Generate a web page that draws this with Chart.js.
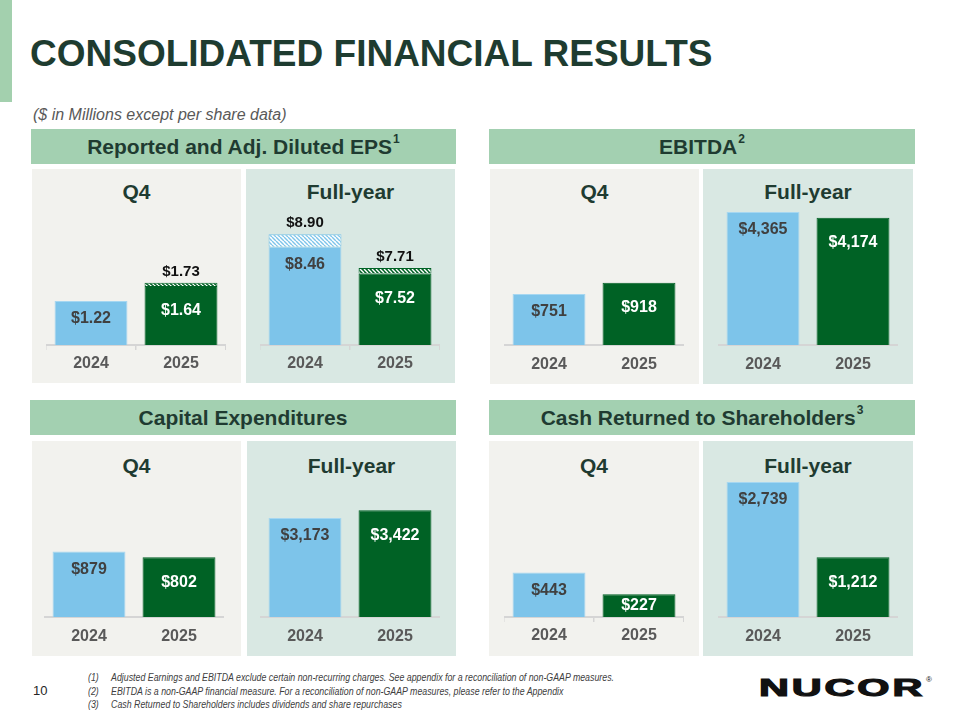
<!DOCTYPE html>
<html><head><meta charset="utf-8">
<script src="https://cdn.jsdelivr.net/npm/chart.js@4.4.1/dist/chart.umd.min.js"></script>
<style>
html,body{margin:0;padding:0;background:#fff;}
body{width:960px;height:720px;position:relative;overflow:hidden;font-family:"Liberation Sans",Arial,sans-serif;}
.abs{position:absolute;}
.accent{left:0;top:0;width:12px;height:102px;background:#a3d0ae;}
.title{left:30px;top:35px;font-size:37px;line-height:37px;font-weight:bold;color:#1e3c30;white-space:nowrap;}
.sub{left:33px;top:107px;font-size:16px;line-height:16px;font-style:italic;color:#595959;white-space:nowrap;}
.hdr{display:flex;align-items:center;justify-content:center;background:#a3d0b1;color:#1f3b31;font-weight:bold;font-size:21px;line-height:22px;white-space:nowrap;}
.hdr .sp{font-size:12px;position:relative;top:-8px;margin-left:1px;}
.pq{background:#f2f2ee;}
.pf{background:#d9e8e3;}
.ptitle{text-align:center;font-weight:bold;font-size:21px;line-height:21px;color:#1f3b31;}
canvas{position:absolute;}
.foot{left:88px;font-size:10.3px;line-height:13px;font-style:italic;color:#404040;white-space:nowrap;transform:scaleX(0.855);transform-origin:left top;}
.foot span.n{display:inline-block;width:27px;}
.pg{left:33px;top:683px;font-size:13px;line-height:16px;color:#262626;}
.logo{left:759px;top:677px;font-size:23px;line-height:23px;font-weight:900;color:#111;letter-spacing:1.6px;transform:scaleX(1.8);transform-origin:left top;white-space:nowrap;-webkit-text-stroke:1.1px #111;}
.reg{left:926px;top:675px;font-size:8px;color:#111;}
</style>
</head><body>
<div class="abs accent"></div>
<div class="abs title">CONSOLIDATED FINANCIAL RESULTS</div>
<div class="abs sub">($ in Millions except per share data)</div>

<div class="abs hdr" style="left:31px;top:129px;width:425px;height:35px;">Reported and Adj. Diluted EPS<span class="sp">1</span></div>
<div class="abs hdr" style="left:489px;top:129px;width:426px;height:35px;">EBITDA<span class="sp">2</span></div>
<div class="abs hdr" style="left:30px;top:400px;width:426px;height:35px;">Capital Expenditures</div>
<div class="abs hdr" style="left:489px;top:400px;width:426px;height:35px;">Cash Returned to Shareholders<span class="sp">3</span></div>

<div class="abs pq" style="left:32px;top:169px;width:209px;height:214px;"></div>
<div class="abs pf" style="left:246px;top:169px;width:209px;height:214px;"></div>
<div class="abs pq" style="left:490px;top:169px;width:209px;height:215px;"></div>
<div class="abs pf" style="left:703px;top:169px;width:210px;height:215px;"></div>
<div class="abs pq" style="left:32px;top:441px;width:209px;height:215px;"></div>
<div class="abs pf" style="left:247px;top:441px;width:209px;height:215px;"></div>
<div class="abs pq" style="left:489px;top:441px;width:210px;height:215px;"></div>
<div class="abs pf" style="left:703px;top:441px;width:210px;height:215px;"></div>

<div class="abs ptitle" style="left:32px;top:181px;width:209px;">Q4</div>
<div class="abs ptitle" style="left:246px;top:181px;width:209px;">Full-year</div>
<div class="abs ptitle" style="left:490px;top:181px;width:209px;">Q4</div>
<div class="abs ptitle" style="left:703px;top:181px;width:210px;">Full-year</div>
<div class="abs ptitle" style="left:32px;top:455px;width:209px;">Q4</div>
<div class="abs ptitle" style="left:247px;top:455px;width:209px;">Full-year</div>
<div class="abs ptitle" style="left:489px;top:455px;width:210px;">Q4</div>
<div class="abs ptitle" style="left:703px;top:455px;width:210px;">Full-year</div>

<canvas id="c1" width="180" height="170" style="left:46px;top:205px;"></canvas>
<canvas id="c2" width="180" height="170" style="left:260px;top:205px;"></canvas>
<canvas id="c3" width="180" height="170" style="left:504px;top:205px;"></canvas>
<canvas id="c4" width="180" height="170" style="left:718px;top:205px;"></canvas>
<canvas id="c5" width="180" height="170" style="left:44px;top:477px;"></canvas>
<canvas id="c6" width="180" height="170" style="left:260px;top:477px;"></canvas>
<canvas id="c7" width="180" height="170" style="left:504px;top:477px;"></canvas>
<canvas id="c8" width="180" height="170" style="left:718px;top:477px;"></canvas>

<div class="abs foot" style="top:671px;"><span class="n">(1)</span>Adjusted Earnings and EBITDA exclude certain non-recurring charges. See appendix for a reconciliation of non-GAAP measures.</div>
<div class="abs foot" style="top:685px;"><span class="n">(2)</span>EBITDA is a non-GAAP financial measure. For a reconciliation of non-GAAP measures, please refer to the Appendix</div>
<div class="abs foot" style="top:698px;"><span class="n">(3)</span>Cash Returned to Shareholders includes dividends and share repurchases</div>
<div class="abs pg">10</div>
<div class="abs logo">NUCOR</div>
<div class="abs reg">®</div>

<script>
const years = ['2024', '2025'];
const epsQ4Reported = [1.22, 1.64];
const epsQ4Adjusted = [null, 1.73];
const epsFyReported = [8.46, 7.52];
const epsFyAdjusted = [8.90, 7.71];
const ebitdaQ4 = [751, 918];
const ebitdaFy = [4365, 4174];
const capexQ4 = [879, 802];
const capexFy = [3173, 3422];
const cashQ4 = [443, 227];
const cashFy = [2739, 1212];

const BLUE = '#7dc4ea', GREEN = '#006225';
const FONT = '"Liberation Sans", Arial, sans-serif';

function hatch(bg, fg) {
  const c = document.createElement('canvas');
  c.width = 4; c.height = 4;
  const x = c.getContext('2d');
  x.fillStyle = bg; x.fillRect(0, 0, 4, 4);
  x.strokeStyle = fg; x.lineWidth = 1.4;
  x.beginPath();
  for (let o = -4; o <= 4; o += 4) { x.moveTo(o, 0); x.lineTo(o + 4, 4); }
  x.stroke();
  return x.createPattern(c, 'repeat');
}
const hatchBlue = hatch('#ffffff', BLUE);
const hatchGreen = hatch(GREEN, '#ffffff');

const money2 = v => '$' + v.toFixed(2);
const money0 = v => '$' + v.toLocaleString('en-US');

const valueLabels = {
  id: 'valueLabels',
  afterDatasetsDraw(chart, args, opts) {
    const ctx = chart.ctx;
    ctx.save();
    ctx.textAlign = 'center';
    ctx.textBaseline = 'middle';
    const ds0 = chart.data.datasets[0];
    chart.getDatasetMeta(0).data.forEach((bar, i) => {
      const v = ds0.data[i];
      const h = bar.base - bar.y;
      const off = Math.min(i === 0 ? 18 : 25, h / 2);
      ctx.font = 'bold 16px ' + FONT;
      ctx.fillStyle = i === 0 ? '#404040' : '#ffffff';
      ctx.fillText(opts.fmt(v), bar.x, bar.y + off);
    });
    const ds1 = chart.data.datasets[1];
    if (ds1) {
      chart.getDatasetMeta(1).data.forEach((bar, i) => {
        const d = ds1.data[i];
        if (!d) return;
        ctx.font = 'bold 15px ' + FONT;
        ctx.fillStyle = '#111111';
        ctx.fillText(opts.fmt(d[1]), bar.x, bar.y - 11);
      });
    }
    ctx.restore();
  }
};

function makeChart(id, cfg) {
  const datasets = [{
    data: cfg.values,
    backgroundColor: [BLUE, GREEN],
    borderColor: ['#a6d7f1', GREEN],
    borderWidth: 1,
    barPercentage: 0.81,
    categoryPercentage: 1,
    grouped: false
  }];
  if (cfg.adjusted) {
    datasets.push({
      data: cfg.adjusted.map((a, i) => a == null ? null : [cfg.values[i], a]),
      backgroundColor: [hatchBlue, hatchGreen],
      borderColor: [BLUE, GREEN],
      borderWidth: 1,
      barPercentage: 0.81,
      categoryPercentage: 1,
      grouped: false
    });
  }
  new Chart(document.getElementById(id), {
    type: 'bar',
    data: { labels: years, datasets },
    options: {
      responsive: false,
      animation: false,
      layout: { padding: 0 },
      plugins: { legend: { display: false }, tooltip: { enabled: false }, valueLabels: { fmt: cfg.fmt } },
      scales: {
        x: {
          offset: true,
          grid: { display: true, drawOnChartArea: false, drawTicks: cfg.ticks, tickLength: 5, color: '#d5d5d5', lineWidth: 1.5, offset: true },
          border: { display: true, color: '#d5d5d5', width: 2 },
          ticks: { padding: cfg.ticks ? 4 : 10, color: '#595959', font: { family: FONT, size: 16, weight: 'bold' } },
          afterFit(s) { s.height = 30; }
        },
        y: { display: false, min: cfg.min || 0, max: cfg.max }
      }
    },
    plugins: [valueLabels]
  });
}

makeChart('c1', { values: epsQ4Reported, adjusted: epsQ4Adjusted, max: 3.89, fmt: money2, ticks: true });
makeChart('c2', { values: epsFyReported, adjusted: epsFyAdjusted, min: 5, max: 9.93, fmt: money2, ticks: true });
makeChart('c3', { values: ebitdaQ4, max: 2062, fmt: money0, ticks: false });
makeChart('c4', { values: ebitdaFy, max: 4595, fmt: money0, ticks: false });
makeChart('c5', { values: capexQ4, max: 1882, fmt: money0, ticks: false });
makeChart('c6', { values: capexFy, max: 4487, fmt: money0, ticks: false });
makeChart('c7', { values: cashQ4, max: 1392, fmt: money0, ticks: true });
makeChart('c8', { values: cashFy, max: 2840, fmt: money0, ticks: false });
</script>
</body></html>
